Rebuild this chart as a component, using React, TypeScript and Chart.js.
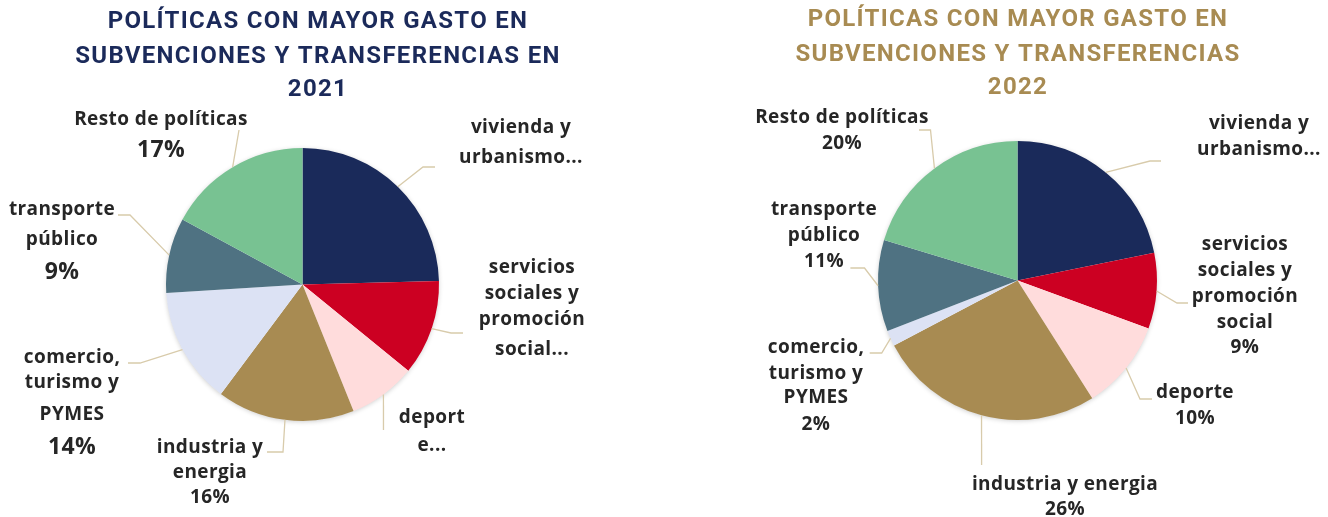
import React, { useEffect, useRef } from "react";
import { Chart, registerables } from "chart.js";

Chart.register(...registerables);

const CATEGORIES = [
  "vivienda y urbanismo",
  "servicios sociales y promoción social",
  "deporte",
  "industria y energia",
  "comercio, turismo y PYMES",
  "transporte público",
  "Resto de políticas",
];
const VALUES_2021 = [24.6, 11.3, 8.0, 16.3, 13.8, 8.9, 17.1];
const VALUES_2022 = [21.8, 8.8, 10.4, 26.3, 1.8, 10.6, 20.3];
const COLORS = ["#1a2a5a", "#cc0022", "#ffdcdc", "#a88b52", "#dce2f4", "#4f7282", "#78c292"];

const TITLE_2021 = ["POLÍTICAS CON MAYOR GASTO EN", "SUBVENCIONES Y TRANSFERENCIAS EN", "2021"];
const TITLE_2022 = ["POLÍTICAS CON MAYOR GASTO EN", "SUBVENCIONES Y TRANSFERENCIAS", "2022"];

const LABEL_LINES_2021 = [
  ["vivienda y", "urbanismo..."],
  ["servicios", "sociales y", "promoción", "social..."],
  ["deport", "e..."],
  ["industria y", "energia"],
  ["comercio,", "turismo y", "PYMES"],
  ["transporte", "público"],
  ["Resto de políticas"],
];
const LABEL_LINES_2022 = [
  ["vivienda y", "urbanismo..."],
  ["servicios", "sociales y", "promoción", "social"],
  ["deporte"],
  ["industria y energia"],
  ["comercio,", "turismo y", "PYMES"],
  ["transporte", "público"],
  ["Resto de políticas"],
];
const SHOW_PCT_2021 = [false, false, false, true, true, true, true];
const SHOW_PCT_2022 = [false, true, true, true, true, true, true];

type LabelLayout = { x: number; ys: number[]; big?: boolean; leader: number[][] };

const LAYOUT_2021: LabelLayout[] = [
  { x: 521, ys: [128, 158], leader: [[423, 167], [435, 167]] },
  { x: 532, ys: [268, 294, 320, 350], leader: [[451, 333], [463, 333]] },
  { x: 432, ys: [418, 446], leader: [[383.5, 430]] },
  { x: 210, ys: [448, 473, 498], leader: [[283, 452], [267, 452]] },
  { x: 72, ys: [358, 383, 415, 447], big: true, leader: [[140, 363], [128, 363]] },
  { x: 62, ys: [210, 240, 272], big: true, leader: [[130, 215], [118, 215]] },
  { x: 161, ys: [120, 150], big: true, leader: [[239, 130]] },
];
const LAYOUT_2022: LabelLayout[] = [
  { x: 595, ys: [124, 150], leader: [[486, 161], [497, 161]] },
  { x: 581, ys: [245, 271, 297, 323, 348], leader: [[513, 303], [524, 303]] },
  { x: 531, ys: [393, 419], leader: [[476, 399], [488, 399]] },
  { x: 401, ys: [485, 510], leader: [[317.6, 465]] },
  { x: 152, ys: [348, 374, 398, 425], leader: [[217.7, 353], [205.7, 353]] },
  { x: 160, ys: [210, 236, 262], leader: [[200.5, 268], [186.4, 268]] },
  { x: 178, ys: [118, 144], leader: [[266.5, 130], [255, 130]] },
];

const TITLE_FONT = "Roboto, sans-serif";
const LABEL_FONT = "'Open Sans', Roboto, sans-serif";
const TEXT_COLOR = "#262626";
const LEADER_COLOR = "#d8cbab";

function makePlugin(
  title: string[],
  titleColor: string,
  titleX: number,
  titleYs: number[],
  lines: string[][],
  showPct: boolean[],
  layout: LabelLayout[],
  values: number[]
) {
  return {
    id: "customLabels",
    beforeDatasetsDraw(chart: any) {
      const meta = chart.getDatasetMeta(0);
      const arc = meta.data[0];
      if (!arc) return;
      const ctx = chart.ctx;
      ctx.save();
      ctx.shadowColor = "rgba(0,0,0,0.22)";
      ctx.shadowBlur = 5;
      ctx.shadowOffsetX = 0;
      ctx.shadowOffsetY = 1;
      ctx.fillStyle = "#ffffff";
      ctx.beginPath();
      ctx.arc(arc.x, arc.y, arc.outerRadius - 0.5, 0, Math.PI * 2);
      ctx.fill();
      ctx.restore();
    },
    afterDraw(chart: any) {
      const ctx = chart.ctx;
      ctx.save();
      ctx.textAlign = "center";
      ctx.textBaseline = "middle";
      ctx.fillStyle = titleColor;
      ctx.font = `bold 24px ${TITLE_FONT}`;
      (ctx as any).letterSpacing = "1.3px";
      title.forEach((t, i) => ctx.fillText(t, titleX, titleYs[i]));

      (ctx as any).letterSpacing = "0.4px";
      const meta = chart.getDatasetMeta(0);
      meta.data.forEach((el: any, i: number) => {
        const lay = layout[i];
        const mid = (el.startAngle + el.endAngle) / 2;
        const sx = el.x + el.outerRadius * Math.cos(mid);
        const sy = el.y + el.outerRadius * Math.sin(mid);
        ctx.strokeStyle = LEADER_COLOR;
        ctx.lineWidth = 1.3;
        ctx.beginPath();
        ctx.moveTo(sx, sy);
        lay.leader.forEach((p) => ctx.lineTo(p[0], p[1]));
        ctx.stroke();

        const ls = [...lines[i]];
        const pctIdx = showPct[i] ? ls.length : -1;
        if (showPct[i]) ls.push(Math.round(values[i]) + "%");
        ctx.fillStyle = TEXT_COLOR;
        ls.forEach((t, j) => {
          const big = j === pctIdx && lay.big;
          ctx.font = `bold ${big ? 23 : 19}px ${LABEL_FONT}`;
          ctx.fillText(t, lay.x, lay.ys[j]);
        });
      });
      ctx.restore();
    },
  };
}

function PieChart(props: {
  values: number[];
  title: string[];
  titleColor: string;
  titleX: number;
  titleYs: number[];
  lines: string[][];
  showPct: boolean[];
  layout: LabelLayout[];
  padding: { left: number; right: number; top: number; bottom: number };
  left: number;
}) {
  const ref = useRef<HTMLCanvasElement | null>(null);
  useEffect(() => {
    if (!ref.current) return;
    const chart = new Chart(ref.current, {
      type: "pie",
      data: {
        labels: CATEGORIES,
        datasets: [
          {
            data: props.values,
            backgroundColor: COLORS,
            borderWidth: 0,
          },
        ],
      },
      options: {
        responsive: false,
        animation: false,
        layout: { padding: props.padding },
        plugins: {
          legend: { display: false },
          tooltip: { enabled: false },
          title: { display: false },
        },
      },
      plugins: [
        makePlugin(
          props.title,
          props.titleColor,
          props.titleX,
          props.titleYs,
          props.lines,
          props.showPct,
          props.layout,
          props.values
        ),
      ],
    } as any);
    return () => chart.destroy();
  }, []);
  return (
    <canvas
      ref={ref}
      width={664}
      height={517}
      style={{ position: "absolute", left: props.left, top: 0, width: 664, height: 517 }}
    />
  );
}

export default function App() {
  return (
    <div style={{ position: "absolute", left: 0, top: 0, width: 1328, height: 517, background: "#ffffff" }}>
      <PieChart
        values={VALUES_2021}
        title={TITLE_2021}
        titleColor="#1b2a5a"
        titleX={318}
        titleYs={[22, 57, 90]}
        lines={LABEL_LINES_2021}
        showPct={SHOW_PCT_2021}
        layout={LAYOUT_2021}
        padding={{ left: 166, right: 225, top: 148, bottom: 96 }}
        left={0}
      />
      <PieChart
        values={VALUES_2022}
        title={TITLE_2022}
        titleColor="#a88b52"
        titleX={354}
        titleYs={[20, 55, 88]}
        lines={LABEL_LINES_2022}
        showPct={SHOW_PCT_2022}
        layout={LAYOUT_2022}
        padding={{ left: 214, right: 171, top: 141, bottom: 97 }}
        left={664}
      />
    </div>
  );
}
